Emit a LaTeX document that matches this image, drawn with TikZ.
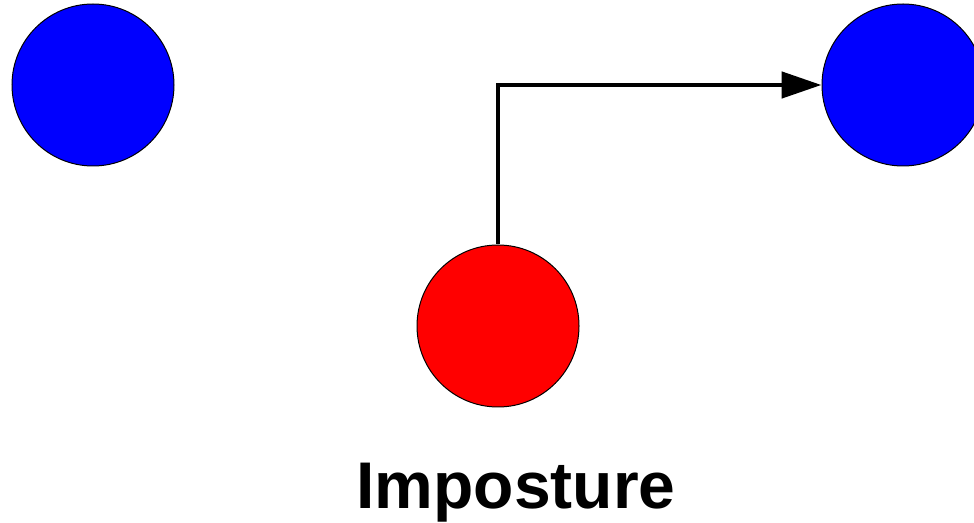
\documentclass[tikz,border=0pt]{standalone}
\usepackage{fontspec}
\setmainfont{Liberation Sans}
\usetikzlibrary{arrows.meta}

\begin{document}
\begin{tikzpicture}[x=0.5pt, y=-0.5pt,
    ball/.style={circle, draw=black, line width=0.5pt, inner sep=0pt, minimum size=81pt},
    move/.style={line width=2.4pt, -{Triangle[length=20pt, width=13pt]}}]
  \useasboundingbox (0,0) rectangle (974,523);

  % Blue balls
  \node[ball, fill=blue] (leftball) at (93,85) {};
  \node[ball, fill=blue] (rightball) at (903,85) {};

  % Red ball and its move
  \node[ball, fill=red] (redball) at (498,326) {};
  \draw[move] (redball.north) |- (rightball.west);

  \node[anchor=base, font=\bfseries\fontsize{33pt}{40pt}\selectfont] (caption) at (516,508) {Imposture};
\end{tikzpicture}
\end{document}
